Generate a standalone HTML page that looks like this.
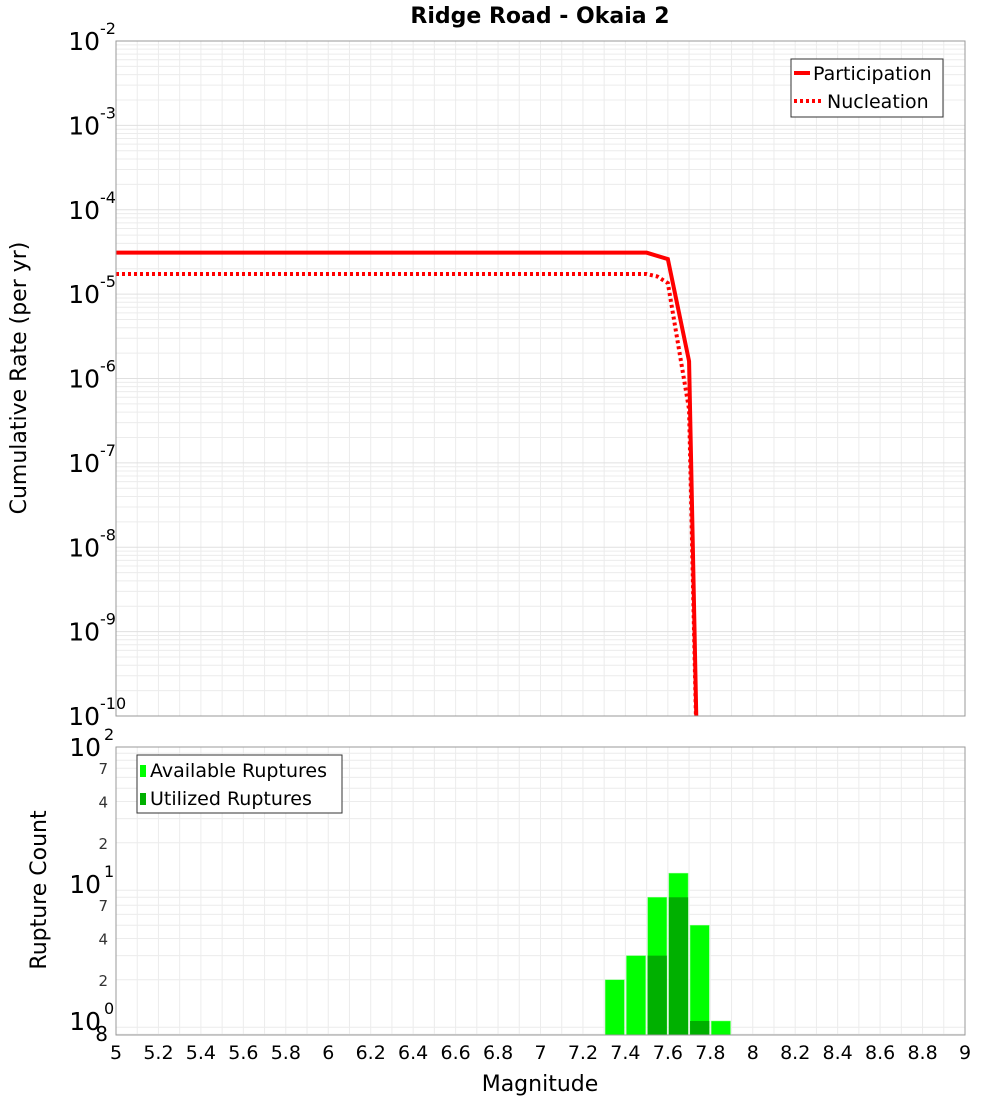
<!DOCTYPE html>
<html><head><meta charset="utf-8"><style>
body{margin:0;background:#fff;font-family:"Liberation Sans","DejaVu Sans",sans-serif}
svg text{font-family:"DejaVu Sans","Liberation Sans",sans-serif}
</style></head><body>
<svg id="c" width="1000" height="1100" xmlns="http://www.w3.org/2000/svg">
<text x="540" y="23" text-anchor="middle" font-size="22" font-weight="bold">Ridge Road - Okaia 2</text>
<text transform="translate(26,378) rotate(-90)" text-anchor="middle" font-size="22">Cumulative Rate (per yr)</text>
<text transform="translate(46,890) rotate(-90)" text-anchor="middle" font-size="22">Rupture Count</text>
<text x="540" y="1091" text-anchor="middle" font-size="22">Magnitude</text>
<g id="g"></g>
</svg>
<script>
const partMag=[5.0,7.5,7.6,7.7,7.75];
const partRate=[3.1e-5,3.1e-5,2.6e-5,1.6e-6,1e-12];
const nuclMag=[5.0,7.5,7.55,7.6,7.7,7.75];
const nuclRate=[1.73e-5,1.73e-5,1.62e-5,1.35e-5,4.3e-7,1e-12];
const binMag=[7.35,7.45,7.55,7.65,7.75,7.85];
const availCount=[2,3,8,12,5,1];
const utilCount=[0,0,3,8,1,0];
const xTicks=[5,5.2,5.4,5.6,5.8,6,6.2,6.4,6.6,6.8,7,7.2,7.4,7.6,7.8,8,8.2,8.4,8.6,8.8,9];
const topExp=[-2,-3,-4,-5,-6,-7,-8,-9,-10];
const botMinor=[7,4,2];

const NS="http://www.w3.org/2000/svg";
const g=document.getElementById('g');
function el(t,a,p){const e=document.createElementNS(NS,t);for(const k in a)e.setAttribute(k,a[k]);(p||g).appendChild(e);return e;}
const X0=116,X1=965;
const x=m=>X0+(m-5)/4*(X1-X0);
const T0=41,T1=716;
const yT=v=>T0+(-2-Math.log10(v))/8*(T1-T0);
const B0=747,B1=1035,BD=137;
const yB=v=>B0+(2-Math.log10(v))*BD;

for(let d=-10;d<-2;d++)for(let k=2;k<=9;k++){const yy=yT(k*Math.pow(10,d));const l=el('line',{x1:X0,x2:X1,y1:yy,y2:yy,stroke:'#ececec','stroke-width':1});}
for(let m=5;m<=9.001;m+=0.1){const xx=x(m);const l=el('line',{x1:xx,x2:xx,y1:T0,y2:T1,stroke:'#ececec'});const l2=el('line',{x1:xx,x2:xx,y1:B0,y2:B1,stroke:'#ececec'});}
topExp.forEach(e=>{const yy=yT(Math.pow(10,e));const l=el('line',{x1:X0,x2:X1,y1:yy,y2:yy,stroke:'#e0e0e0'});
const t=el('text',{x:100,y:yy+9,'text-anchor':'end','font-size':25});t.textContent='10';
const s=el('text',{x:100,y:yy-7,'font-size':16});s.textContent=String(e);});
for(let d=-1;d<2;d++)for(let k=2;k<=9;k++){const v=k*Math.pow(10,d);const yy=yB(v);if(yy>B1)continue;const l=el('line',{x1:X0,x2:X1,y1:yy,y2:yy,stroke:'#ececec'});}
[2,1,0].forEach(e=>{const yy=yB(Math.pow(10,e));
const t=el('text',{x:101,y:yy+9,'text-anchor':'end','font-size':25});t.textContent='10';
const s=el('text',{x:104,y:yy-7,'font-size':16});s.textContent=String(e);
if(e>0)botMinor.forEach(k=>{const v=k*Math.pow(10,e-1);const t2=el('text',{x:108,y:yB(v)+6,'text-anchor':'end','font-size':15,fill:'#333'});t2.textContent=String(k);});});
{const t=el('text',{x:108,y:1041,'text-anchor':'end','font-size':20});t.textContent='8';}
xTicks.forEach(m=>{const t=el('text',{x:x(m),y:1059,'text-anchor':'middle','font-size':19});t.textContent=String(m);});

const defs=el('defs',{});
const cp=el('clipPath',{id:'cpT'},defs);el('rect',{x:X0,y:T0,width:X1-X0,height:T1-T0},cp);
const cpb=el('clipPath',{id:'cpB'},defs);el('rect',{x:X0,y:B0,width:X1-X0,height:B1-B0},cpb);

const lg=el('g',{'clip-path':'url(#cpT)'});
const pp=el('polyline',{points:partMag.map((m,i)=>x(m)+','+yT(partRate[i])).join(' '),fill:'none',stroke:'#ff0000','stroke-width':4},lg);

const np=el('polyline',{points:nuclMag.map((m,i)=>x(m)+','+yT(nuclRate[i])).join(' '),fill:'none',stroke:'#ff0000','stroke-width':4,'stroke-dasharray':'3,3'},lg);


const bg=el('g',{'clip-path':'url(#cpB)'});
const bw=x(5.1)-x(5);
binMag.forEach((m,i)=>{const x0=x(m-0.05)+1;
if(availCount[i]>0){const r=el('rect',{x:x0,y:yB(availCount[i]),width:bw-2,height:B1-yB(availCount[i]),fill:'#00ff00',stroke:'#80ff80','stroke-width':0.5},bg);}
if(utilCount[i]>0){const r=el('rect',{x:x0,y:yB(utilCount[i]),width:bw-2,height:B1-yB(utilCount[i]),fill:'#00b000'},bg);}});

[[T0,T1],[B0,B1]].forEach(([a,b])=>{const r=el('rect',{x:X0,y:a,width:X1-X0,height:b-a,fill:'none',stroke:'#999'});});

const L1=el('g',{});
el('rect',{x:791,y:59,width:152,height:58,fill:'#fff',stroke:'#333'},L1);
el('line',{x1:794,x2:810,y1:73,y2:73,stroke:'#f00','stroke-width':4},L1);
el('line',{x1:794,x2:822,y1:101,y2:101,stroke:'#f00','stroke-width':4,'stroke-dasharray':'3,3'},L1);
let t=el('text',{x:813,y:80,'font-size':19},L1);t.textContent='Participation';
t=el('text',{x:827,y:108,'font-size':19},L1);t.textContent='Nucleation';
const L2=el('g',{});
el('rect',{x:137,y:755,width:205,height:58,fill:'#fff',stroke:'#333'},L2);
el('rect',{x:140,y:765,width:6,height:12,fill:'#00ff00'},L2);
el('rect',{x:140,y:793,width:6,height:12,fill:'#00b000'},L2);
t=el('text',{x:150,y:777,'font-size':19},L2);t.textContent='Available Ruptures';
t=el('text',{x:150,y:805,'font-size':19},L2);t.textContent='Utilized Ruptures';
</script>
</body></html>
